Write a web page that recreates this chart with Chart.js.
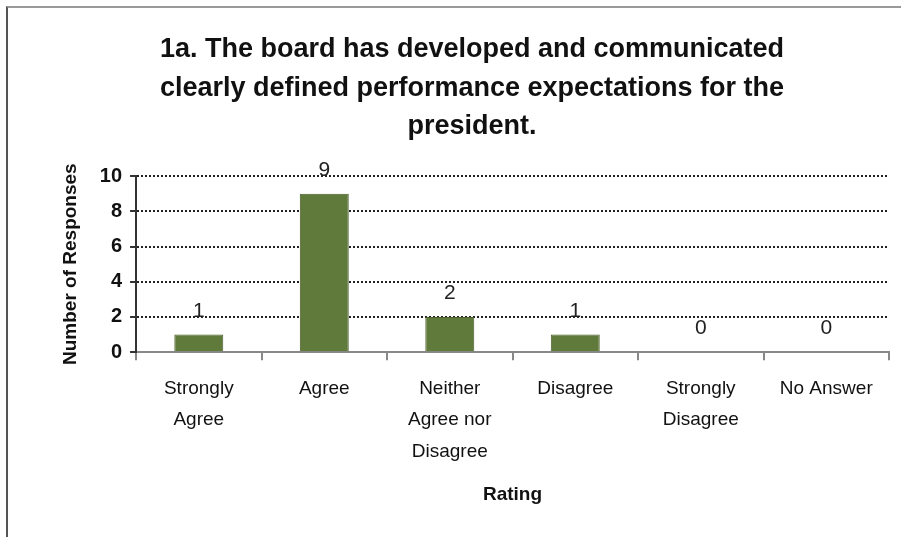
<!DOCTYPE html>
<html>
<head>
<meta charset="utf-8">
<script src="https://cdn.jsdelivr.net/npm/chart.js@4.4.0/dist/chart.umd.min.js"></script>
<style>
  html, body { margin: 0; padding: 0; background: #fff; }
  #wrap { position: relative; width: 901px; height: 537px; }
  #frame { position: absolute; left: 6px; top: 6px; width: 900px; height: 540px;
           border-left: 2px solid #555; border-top: 2px solid #999; }
</style>
</head>
<body>
<div id="wrap">
  <div id="frame"></div>
  <canvas id="myChart" width="901" height="537"></canvas>
</div>
<script>
// Chart data
const categories = [
  ['Strongly', 'Agree'],
  ['Agree'],
  ['Neither', 'Agree nor', 'Disagree'],
  ['Disagree'],
  ['Strongly', 'Disagree'],
  ['No Answer']
];
const responses = [1, 9, 2, 1, 0, 0];
const titleLines = [
  '1a. The board has developed and communicated',
  'clearly defined performance expectations for the',
  'president.'
];

const FONT = '"Liberation Sans", Arial, sans-serif';

// draws the value above each bar
const valueLabels = {
  id: 'valueLabels',
  afterDatasetsDraw(chart) {
    const ctx = chart.ctx;
    const meta = chart.getDatasetMeta(0);
    ctx.save();
    ctx.font = '21px ' + FONT;
    ctx.fillStyle = '#222';
    ctx.textAlign = 'center';
    ctx.textBaseline = 'bottom';
    meta.data.forEach((bar, i) => {
      ctx.fillText(String(responses[i]), bar.x, bar.y - 13);
    });
    ctx.restore();
  }
};

function drawGraph() {
  const ctx = document.getElementById('myChart').getContext('2d');
  const myChart = new Chart(ctx, {
    type: 'bar',
    data: {
      labels: categories,
      datasets: [{
        label: 'Responses',
        data: responses,
        backgroundColor: '#5f7a3a',
        borderColor: '#4a5d2b',
        borderWidth: 1,
        categoryPercentage: 1,
        barPercentage: 0.39
      }]
    },
    plugins: [valueLabels],
    options: {
      responsive: false,
      animation: false,
      layout: { padding: { left: 55, right: 12, top: 12, bottom: 27 } },
      plugins: {
        legend: { display: false },
        tooltip: { enabled: false },
        title: {
          display: true,
          text: titleLines,
          color: '#111',
          font: { family: FONT, size: 27, weight: 'bold', lineHeight: 1.41 },
          padding: { top: 19, bottom: 31 }
        }
      },
      scales: {
        x: {
          grid: {
            offset: true,
            drawOnChartArea: false,
            color: '#888',
            tickLength: 8,
            lineWidth: 2
          },
          border: { color: '#888', width: 2 },
          ticks: {
            color: '#111',
            font: { family: FONT, size: 19, lineHeight: 1.65 },
            maxRotation: 0,
            autoSkip: false,
            padding: 13
          },
          title: {
            display: true,
            text: 'Rating',
            color: '#111',
            font: { family: FONT, size: 19, weight: 'bold' },
            padding: { top: 3 }
          }
        },
        y: {
          min: 0,
          max: 10,
          ticks: {
            stepSize: 2,
            color: '#111',
            font: { family: FONT, size: 20, weight: 'bold' },
            padding: 8
          },
          grid: {
            color: (c) => c.tick && c.tick.value === 0 ? 'rgba(0,0,0,0)' : '#222',
            lineWidth: 2,
            tickLength: 6,
            tickColor: '#333'
          },
          border: { color: '#333', width: 2, dash: [2, 2] },
          title: {
            display: true,
            text: 'Number of Responses',
            color: '#111',
            font: { family: FONT, size: 19, weight: 'bold' },
            padding: { bottom: 10 }
          }
        }
      }
    }
  });
}

drawGraph();
</script>
</body>
</html>
